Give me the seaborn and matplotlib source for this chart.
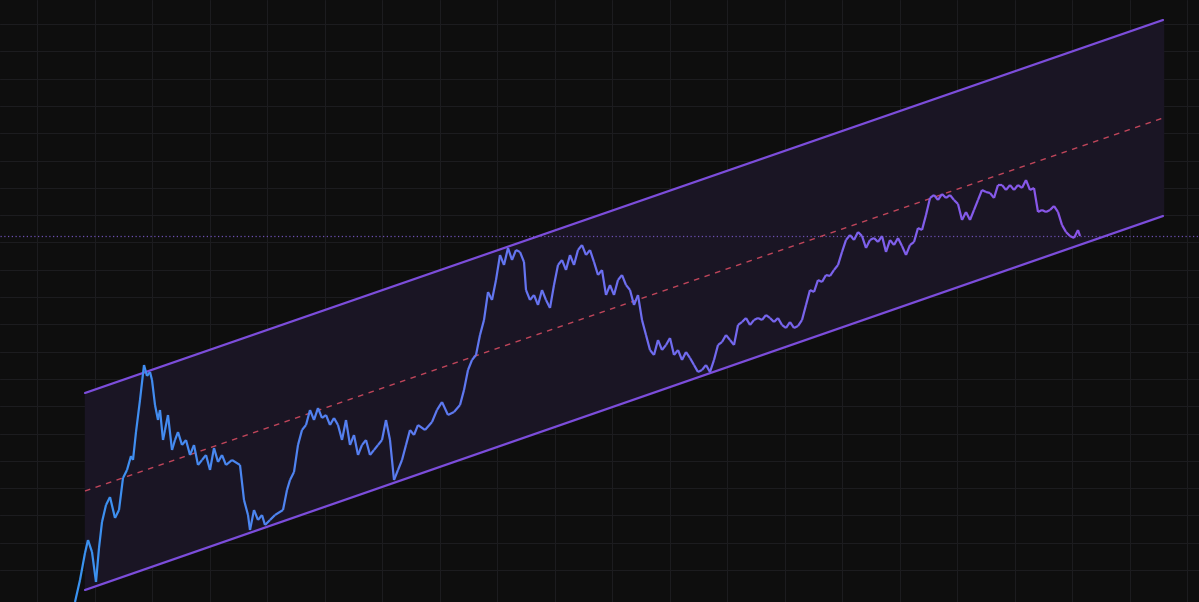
import numpy as np
import pandas as pd
import seaborn as sns
import matplotlib.pyplot as plt
from matplotlib.collections import LineCollection
from matplotlib.colors import LinearSegmentedColormap

px = [75,80,85,88,92,96,99,102,106,110,115,119,123,127,131,133,136,140,144,147,150,152,155,158,160,163,165,168,172,175,178,182,186,190,194,198,202,206,210,214,218,222,226,232,240,244,248,250,254,258,262,265,270,275,283,287,290,294,298,302,306,310,314,318,322,326,330,334,338,342,346,350,354,358,362,366,370,374,378,382,386,390,394,398,402,406,410,414,418,425,432,437,442,448,454,460,464,468,472,476,480,484,488,492,496,500,504,508,512,516,520,524,526,530,534,538,542,546,550,554,558,562,566,570,574,578,582,586,590,594,598,602,606,610,614,618,622,626,630,634,638,642,646,650,654,658,662,666,670,674,678,682,686,690,694,698,702,706,710,714,718,722,726,730,734,738,742,746,750,754,758,762,766,770,774,778,782,786,790,794,798,802,806,810,814,818,822,826,830,834,838,842,846,850,854,858,862,866,870,874,878,882,886,890,894,898,902,906,910,914,918,922,926,930,934,938,942,946,950,954,958,962,966,970,974,978,982,986,990,994,998,1002,1006,1010,1014,1018,1022,1026,1030,1034,1038,1042,1046,1050,1054,1058,1062,1066,1070,1074,1078,1080]
py = [602,580,553,540,552,582,548,522,505,497,518,510,478,470,456,460,432,400,365,376,372,380,405,420,410,440,430,415,450,440,432,445,440,455,445,465,460,455,470,448,462,455,465,460,465,500,515,530,510,520,515,525,520,515,510,490,480,472,445,430,425,410,420,408,418,415,425,418,425,440,420,445,435,455,445,440,455,450,445,440,420,440,480,470,460,445,430,435,425,430,422,410,402,415,412,405,390,370,360,355,335,320,292,300,280,255,265,248,260,250,252,262,290,300,295,305,290,300,308,285,265,260,270,255,265,250,245,255,250,262,275,270,295,285,295,280,275,285,290,305,295,320,335,350,355,340,350,345,338,355,350,360,352,358,365,372,370,365,372,360,345,342,335,340,345,325,322,318,325,320,318,320,315,318,322,318,325,328,322,328,326,320,305,290,292,280,282,275,276,270,265,252,240,235,240,232,236,248,240,238,242,236,252,240,245,238,246,255,245,242,228,230,215,198,195,200,194,198,195,200,204,220,212,220,210,200,190,192,193,198,185,185,190,185,190,185,188,180,190,188,212,210,212,210,206,212,225,232,236,238,230,236]
price = 602 - np.array(py)

# channel ends (start x, end x) and levels
chan_x = [85, 1163]
upper = [602 - 393, 602 - 20]
middle = [602 - 491, 602 - 118]
lower = [602 - 590, 602 - 216]
ref_level = 602 - 236

bg = '#0e0e0e'
sns.set_style('dark', {'axes.facecolor': bg, 'figure.facecolor': bg})
fig = plt.figure(figsize=(11.99, 6.02), dpi=100)
ax = fig.add_axes([0, 0, 1, 1])

for gx in np.arange(37, 1199, 57.5):
    ax.axvline(gx, color='#1c1c1f', lw=0.8, zorder=0)
for gy in np.arange(602 - 570, 602, 27.3):
    ax.axhline(gy, color='#1c1c1f', lw=0.8, zorder=0)

ax.fill_between(chan_x, lower, upper, color='#1a1524', zorder=1)
ch = pd.DataFrame({'x': chan_x, 'upper': upper, 'lower': lower, 'middle': middle})
sns.lineplot(data=ch, x='x', y='upper', color='#7c4ddb', lw=1.6, ax=ax, zorder=3)
sns.lineplot(data=ch, x='x', y='lower', color='#7c4ddb', lw=1.6, ax=ax, zorder=3)
sns.lineplot(data=ch, x='x', y='middle', color='#c0455a', lw=1.0, ls=(0, (4, 4)), ax=ax, zorder=3)
ax.axhline(ref_level, color='#6b4fb0', lw=0.9, ls=(0, (1, 2)), zorder=2)

# gradient line blue -> purple
pts = np.column_stack([px, price]).reshape(-1, 1, 2)
segs = np.concatenate([pts[:-1], pts[1:]], axis=1)
cmap = LinearSegmentedColormap.from_list('bp', ['#3a92f0', '#6a70f0', '#8b55e8'])
lc = LineCollection(segs, cmap=cmap, lw=1.6, zorder=4)
lc.set_array(np.linspace(0, 1, len(segs)))
ax.add_collection(lc)

ax.set_xlim(0, 1199)
ax.set_ylim(0, 602)
ax.set_xlabel('')
ax.set_ylabel('')
ax.set_xticks([])
ax.set_yticks([])
for s in ax.spines.values():
    s.set_visible(False)
fig.savefig('out.png', dpi=100, facecolor=bg)
